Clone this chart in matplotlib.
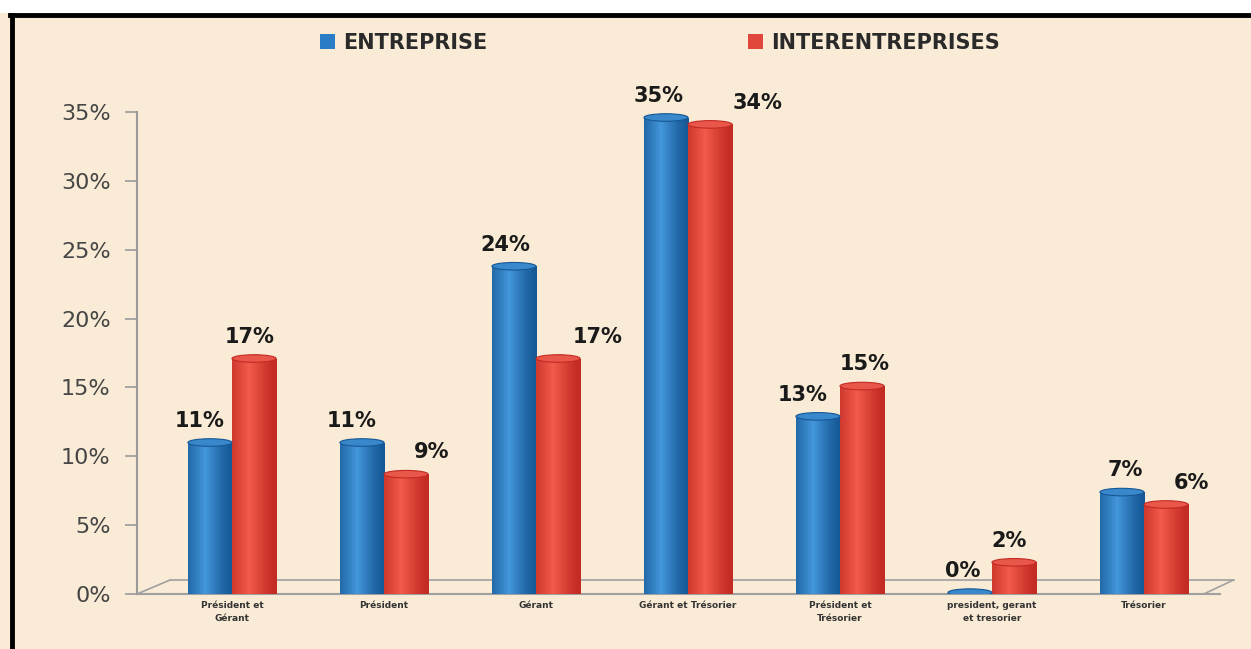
import numpy as np
import matplotlib
matplotlib.use("Agg")
import matplotlib.pyplot as plt
from matplotlib.patches import Ellipse, Rectangle, Patch
from matplotlib.lines import Line2D
from matplotlib.colors import to_rgb

# ---- data ----
categories = ["Président et\nGérant", "Président", "Gérant", "Gérant et Trésorier",
              "Président et\nTrésorier", "president, gerant\net tresorier", "Trésorier"]
entreprise = [11.0, 11.0, 23.8, 34.6, 12.9, 0.1, 7.4]
interentreprises = [17.1, 8.7, 17.1, 34.1, 15.1, 2.3, 6.5]
entreprise_labels = ["11%", "11%", "24%", "35%", "13%", "0%", "7%"]
inter_labels = ["17%", "9%", "17%", "34%", "15%", "2%", "6%"]
series_names = ["ENTREPRISE", "INTERENTREPRISES"]
yticks = [0, 5, 10, 15, 20, 25, 30, 35]

# ---- style ----
BG = "#f9ebd5"
blue_dark, blue_light = "#155795", "#4497dc"
red_dark, red_light = "#c22a22", "#f25c4c"
blue_top, red_top = "#3a88cc", "#e9564a"
red_label_dx = [-0.03, 0.17, 0.26, 0.31, 0.02, -0.03, 0.17]
blue_label_dx = [-0.07, -0.07, -0.06, -0.05, -0.10, -0.05, 0.02]

W, H = 1251, 649
fig = plt.figure(figsize=(W / 100, H / 100), dpi=100, facecolor=BG)

# frame decoration: white strip on top + black border
fig.patches.append(Rectangle((0, 1 - 13 / H), 1, 13 / H, transform=fig.transFigure,
                             facecolor="white", edgecolor="none", zorder=0))
fig.lines.append(Line2D([10 / W, 1], [1 - 15 / H, 1 - 15 / H], transform=fig.transFigure,
                        color="black", lw=3.5))
fig.lines.append(Line2D([11.5 / W, 11.5 / W], [0, 1 - 15 / H], transform=fig.transFigure,
                        color="black", lw=3.5))

ax_l, ax_r, ax_b, ax_t = 137, 1220, 594, 112
ax = fig.add_axes([ax_l / W, 1 - ax_b / H, (ax_r - ax_l) / W, (ax_b - ax_t) / H])
ax.set_facecolor("none")

x = np.arange(len(categories))
bw = 0.29
bars_b = ax.bar(x - bw / 2, entreprise, bw, color=blue_dark, zorder=3)
bars_r = ax.bar(x + bw / 2, interentreprises, bw, color=red_dark, zorder=3)

t = np.linspace(0, 1, 80)
prof = np.clip(1 - np.abs(t - 0.38) / 0.62, 0, 1) ** 1.3


def shade(c_dark, c_light):
    d, l = np.array(to_rgb(c_dark)), np.array(to_rgb(c_light))
    return (d[None, :] + (l - d)[None, :] * prof[:, None])[None, :, :]


ell_h = 0.55
for bars, cd, cl, ct in [(bars_b, blue_dark, blue_light, blue_top),
                         (bars_r, red_dark, red_light, red_top)]:
    img = shade(cd, cl)
    for rect in bars:
        x0, w, h = rect.get_x(), rect.get_width(), rect.get_height()
        im = ax.imshow(img, extent=[x0, x0 + w, 0, h], aspect="auto", zorder=3.1,
                       interpolation="bilinear")
        im.set_clip_path(rect)
        ax.add_patch(Ellipse((x0 + w / 2, 0), w, ell_h, facecolor=cd, edgecolor="none",
                             zorder=3.05))
        ax.add_patch(Ellipse((x0 + w / 2, h), w, ell_h, facecolor=ct, edgecolor=cd,
                             lw=0.8, zorder=3.2))

# value labels
for i in range(len(categories)):
    ax.text(x[i] - bw / 2 + blue_label_dx[i], entreprise[i] + 0.85, entreprise_labels[i],
            ha="center", va="bottom", fontsize=15, fontweight="bold", color="#1a1a1a",
            zorder=5, clip_on=False)
    ax.text(x[i] + bw / 2 + red_label_dx[i], interentreprises[i] + 0.85, inter_labels[i],
            ha="center", va="bottom", fontsize=15, fontweight="bold", color="#1a1a1a",
            zorder=5, clip_on=False)

ax.set_xlim(-0.625, 6.5)
ax.set_ylim(0, 35)
ax.set_yticks(yticks)
ax.set_yticklabels([f"{v}%" for v in yticks], fontsize=16, color="#454545")
ax.set_xticks(x)
ax.set_xticklabels(categories, fontsize=6.5, fontweight="bold", color="#333333",
                   linespacing=1.6)
ax.tick_params(axis="x", length=0, pad=5)
ax.tick_params(axis="y", length=9, width=1.2, color="#9a9a9a", pad=10)

for s in ["top", "right", "bottom"]:
    ax.spines[s].set_visible(False)
ax.spines["left"].set_color("#9a9a9a")
ax.spines["left"].set_linewidth(1.5)

# 3D floor outline (decoration, axes coordinates)
floor_col = "#a0a0a0"
back_y = (594 - 580) / 482
ax.plot([0, 1.0], [0, 0], transform=ax.transAxes, color=floor_col, lw=1.5, clip_on=False)
ax.plot([0, 0.0305], [0, back_y], transform=ax.transAxes, color=floor_col, lw=1.2, clip_on=False)
ax.plot([0.0305, 1.0125], [back_y, back_y], transform=ax.transAxes, color=floor_col, lw=1.2,
        clip_on=False, zorder=1)
ax.plot([0.985, 1.0125], [0, back_y], transform=ax.transAxes, color=floor_col, lw=1.2,
        clip_on=False)

# legend
handles = [Patch(facecolor="#2a7cc6"), Patch(facecolor="#e0463c")]
fig.legend(handles, series_names, loc="center", bbox_to_anchor=(660 / W, 1 - 43 / H),
           ncol=2, frameon=False, handlelength=0.7, handleheight=0.7, handletextpad=0.4,
           columnspacing=12.5, prop={"weight": "bold", "size": 15})
for t_ in fig.legends[0].get_texts():
    t_.set_color("#2a2a2a")

fig.savefig("out.png", dpi=100, facecolor=BG)
